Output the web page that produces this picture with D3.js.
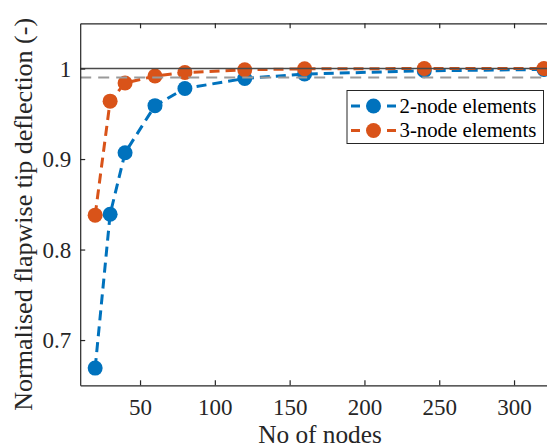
<!DOCTYPE html>
<html>
<head>
<meta charset="utf-8">
<script src="https://cdn.jsdelivr.net/npm/d3@7"></script>
<style>
html,body{margin:0;padding:0;background:#fff;overflow:hidden;}
svg{display:block;}
</style>
</head>
<body>
<svg id="chart" width="547" height="448"></svg>
<script>
const nodes = [20, 30, 40, 60, 80, 120, 160, 240, 320];
const twoNode = [0.669, 0.839, 0.907, 0.959, 0.978, 0.989, 0.994, 0.9975, 0.999];
const threeNode = [0.838, 0.964, 0.984, 0.9917, 0.9956, 0.9986, 0.9997, 1.0, 1.0];
const seriesNames = ["2-node elements", "3-node elements"];
const xTicks = [50, 100, 150, 200, 250, 300];
const yTicks = [0.7, 0.8, 0.9, 1];
const refSolid = 1.0;
const refDashed = 0.99;

(function () {
const font = '"Liberation Serif", "Times New Roman", serif';
const mLeft = 80.2, mTop = 23.3, mBottom = 385.3;
const pxPerUnit = 1.496;
const xMin = 10, xMax = 330;
const mRight = mLeft + (xMax - xMin) * pxPerUnit;

const svg = d3.select("#chart");
const axisColor = "#262626";
const colors = ["#0072BD", "#D95319"];

const x = d3.scaleLinear().domain([xMin, xMax]).range([mLeft, mRight]);
const y = d3.scaleLinear().domain([0.65, 1.05]).range([mBottom, mTop]);

svg.append("defs").append("clipPath").attr("id", "clip")
  .append("rect").attr("x", mLeft).attr("y", mTop).attr("width", mRight - mLeft).attr("height", mBottom - mTop);

const plot = svg.append("g").attr("clip-path", "url(#clip)");
const line = d3.line().x((d, i) => x(nodes[i])).y(d => y(d));
[twoNode, threeNode].forEach((vals, k) => {
  plot.append("path").datum(vals)
    .attr("d", line)
    .attr("fill", "none")
    .attr("stroke", colors[k])
    .attr("stroke-width", 3)
    .attr("stroke-dasharray", "10,6");
});
[twoNode, threeNode].forEach((vals, k) => {
  plot.selectAll(null).data(vals).enter().append("circle")
    .attr("cx", (d, i) => x(nodes[i]))
    .attr("cy", d => y(d))
    .attr("r", 7.5)
    .attr("fill", colors[k]);
});

plot.append("line")
  .attr("x1", mLeft).attr("x2", mRight)
  .attr("y1", y(refSolid)).attr("y2", y(refSolid))
  .attr("stroke", "#4a4a4a").attr("stroke-width", 1.5);
plot.append("line")
  .attr("x1", mLeft).attr("x2", mRight)
  .attr("y1", y(refDashed)).attr("y2", y(refDashed))
  .attr("stroke", "#9a9a9a").attr("stroke-width", 2)
  .attr("stroke-dasharray", "11,7");

const xAxisB = d3.axisBottom(x).tickValues(xTicks).tickSize(-5).tickPadding(13).tickSizeOuter(0);
const gx = svg.append("g").attr("transform", `translate(0,${mBottom})`).call(xAxisB);
const xAxisT = d3.axisTop(x).tickValues(xTicks).tickSize(-5).tickFormat("").tickSizeOuter(0);
const gxt = svg.append("g").attr("transform", `translate(0,${mTop})`).call(xAxisT);
const yAxisL = d3.axisLeft(y).tickValues(yTicks).tickSize(-5).tickPadding(9).tickSizeOuter(0)
  .tickFormat(d => d === 1 ? "1" : d3.format(".1f")(d));
const gy = svg.append("g").attr("transform", `translate(${mLeft},0)`).call(yAxisL);

[gx, gxt, gy].forEach(g => {
  g.attr("font-family", font);
  g.select(".domain").attr("stroke", axisColor).attr("stroke-width", 1.2);
  g.selectAll(".tick line").attr("stroke", axisColor).attr("stroke-width", 1.2);
  g.selectAll("text").attr("font-family", font).attr("font-size", 23).attr("fill", axisColor);
});
gx.selectAll("text").attr("dy", "0.71em");
gy.selectAll("text").attr("dy", "0.33em");

svg.append("text")
  .attr("x", 320).attr("y", 443)
  .attr("text-anchor", "middle")
  .attr("font-family", font).attr("font-size", 25.3).attr("fill", axisColor)
  .text("No of nodes");
svg.append("text")
  .attr("transform", `translate(32,${(mTop + mBottom) / 2 + 10}) rotate(-90)`)
  .attr("text-anchor", "middle")
  .attr("font-family", font).attr("font-size", 26).attr("fill", axisColor)
  .text("Normalised flapwise tip deflection (-)");

const lg = svg.append("g");
lg.append("rect")
  .attr("x", 347).attr("y", 90.5).attr("width", 196.5).attr("height", 53)
  .attr("fill", "#fff").attr("stroke", axisColor).attr("stroke-width", 1);
seriesNames.forEach((name, k) => {
  const cy = 106 + k * 24.5;
  lg.append("line").attr("x1", 351).attr("x2", 360).attr("y1", cy).attr("y2", cy)
    .attr("stroke", colors[k]).attr("stroke-width", 3);
  lg.append("line").attr("x1", 387).attr("x2", 396).attr("y1", cy).attr("y2", cy)
    .attr("stroke", colors[k]).attr("stroke-width", 3);
  lg.append("circle").attr("cx", 373.5).attr("cy", cy).attr("r", 7.5).attr("fill", colors[k]);
  lg.append("text").attr("x", 399.5).attr("y", cy).attr("dy", "0.33em")
    .attr("font-family", font).attr("font-size", 20.8).attr("fill", "#000")
    .text(name);
});
})();
</script>
</body>
</html>
